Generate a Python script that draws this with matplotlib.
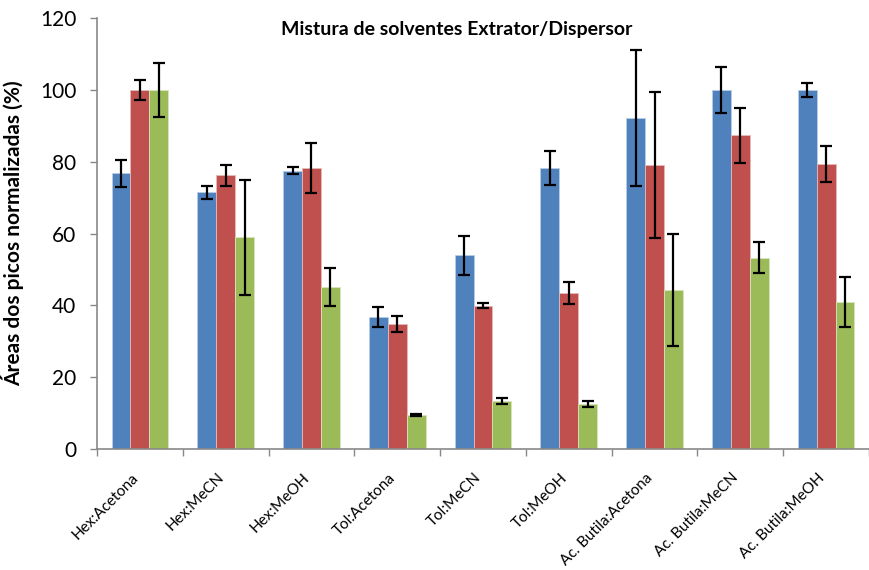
import matplotlib
matplotlib.use("Agg")
import matplotlib.pyplot as plt
import matplotlib.transforms as mtransforms
import numpy as np

plt.rcParams['font.family'] = ['Lato', 'DejaVu Sans']

categories = ["Hex:Acetona", "Hex:MeCN", "Hex:MeOH", "Tol:Acetona", "Tol:MeCN",
              "Tol:MeOH", "Ac. Butila:Acetona", "Ac. Butila:MeCN", "Ac. Butila:MeOH"]
blue_vals = [76.8, 71.5, 77.5, 36.7, 53.9, 78.3, 92.1, 100.0, 100.0]
blue_err = [3.8, 1.8, 1.0, 2.7, 5.5, 4.7, 18.9, 6.4, 2.0]
red_vals = [100.0, 76.2, 78.3, 34.8, 39.9, 43.5, 79.1, 87.3, 79.4]
red_err = [2.7, 3.0, 7.0, 2.2, 0.7, 3.1, 20.3, 7.7, 5.1]
green_vals = [100.0, 59.0, 45.1, 9.5, 13.4, 12.5, 44.3, 53.3, 40.9]
green_err = [7.5, 16.0, 5.2, 0.3, 0.8, 0.8, 15.5, 4.3, 7.0]
yticks = [0, 20, 40, 60, 80, 100, 120]

W, H = 869, 570
fig = plt.figure(figsize=(W / 100, H / 100), dpi=100)
ax = fig.add_axes([97 / W, (H - 449) / H, (W - 97) / W, (449 - 18) / H])

x = np.arange(len(categories))
bw = 0.22
colors = ['#4F81BD', '#C0504D', '#9BBB59']
edges = ['#B9CDE5', '#E6B9B8', '#D7E4BD']
for i, (vals, errs) in enumerate([(blue_vals, blue_err), (red_vals, red_err), (green_vals, green_err)]):
    ax.bar(x + (i - 1) * bw, vals, bw, color=colors[i], edgecolor=edges[i], linewidth=0.6,
           yerr=errs, error_kw=dict(ecolor='black', elinewidth=1.6, capsize=4.3, capthick=1.6), zorder=2)

ax.set_ylim(0, 120)
ax.set_xlim(-0.5, 8.5 - 5 / 86.3)
ax.set_yticks(yticks)
ax.set_yticklabels([str(v) for v in yticks], fontsize=15)
ax.set_xticks(x)
ax.set_xticklabels(categories, rotation=45, ha='right', va='center', rotation_mode='anchor', fontsize=11)
ax.tick_params(axis='x', length=0, pad=14)
offset = mtransforms.ScaledTranslation(-4 / 100, -7 / 100, fig.dpi_scale_trans)
for lbl in ax.get_xticklabels():
    lbl.set_transform(lbl.get_transform() + offset)
ax.set_xticks(np.arange(-0.5, 8.6, 1.0), minor=True)
ax.tick_params(axis='x', which='minor', length=5, color='#898989', width=1)
ax.tick_params(axis='y', length=5, color='#898989', width=1, direction='out', pad=10)

for s in ['top', 'right']:
    ax.spines[s].set_visible(False)
for s in ['left', 'bottom']:
    ax.spines[s].set_color('#898989')
    ax.spines[s].set_linewidth(1.2)

ax.set_ylabel("Áreas dos picos normalizadas (%)", fontsize=15, fontweight='bold', labelpad=11)
fig.text(457 / W, 1 - 30 / H, "Mistura de solventes Extrator/Dispersor", fontsize=14,
         fontweight='bold', ha='center', va='center')

fig.savefig("out.png", dpi=100)
